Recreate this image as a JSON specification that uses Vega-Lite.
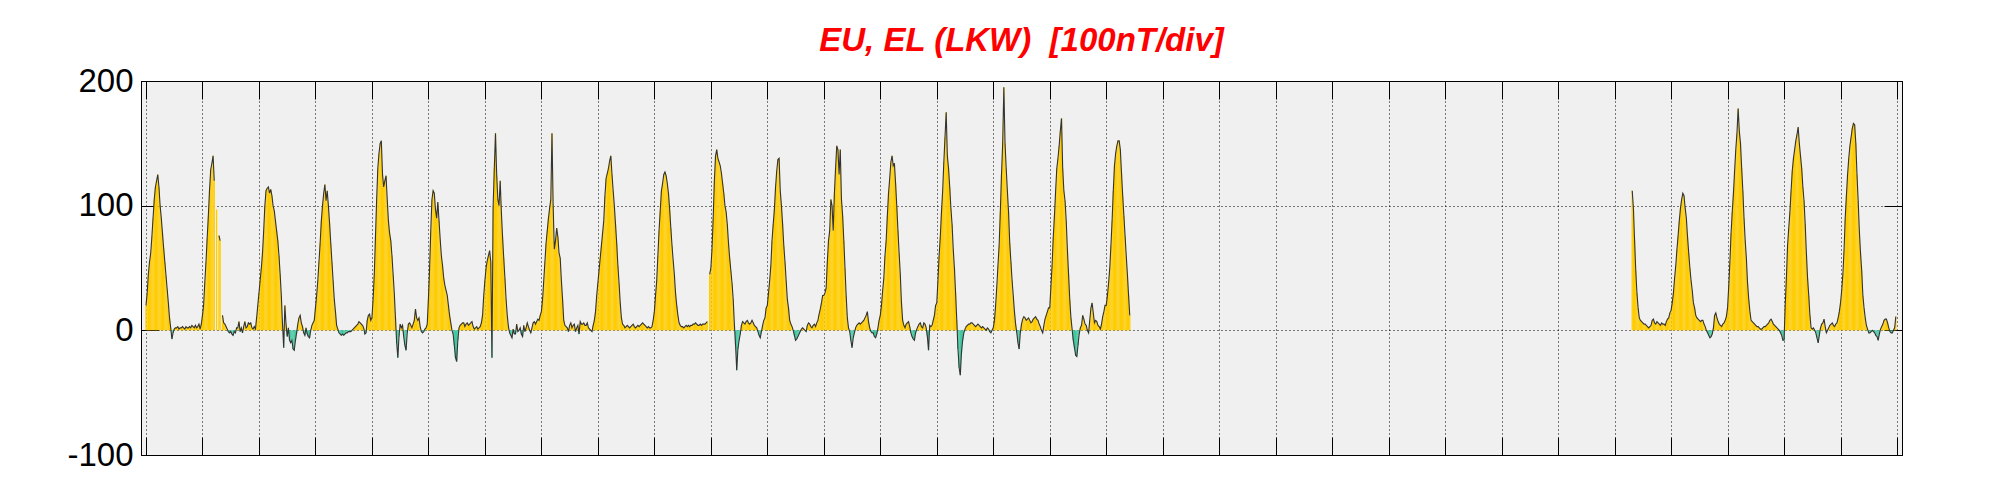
{
"$schema": "https://vega.github.io/schema/vega-lite/v6.json",
"width": 1761, "height": 374,
"autosize": "none",
"padding": {"left": 141, "top": 81, "right": 99, "bottom": 45},
"background": "white",
"title": {"text": "EU, EL (LKW) \u00a0[100nT/div]", "font": "Liberation Sans", "fontSize": 33, "fontStyle": "italic", "fontWeight": "bold", "color": "#FF0000", "anchor": "middle", "frame": "group", "baseline": "alphabetic", "offset": 28, "dy": 47},
"config": {"view": {"fill": "#F0F0F0", "stroke": "#000000", "strokeWidth": 1}},
"data": {"values": [
{"i":0,"v":20},{"i":1,"v":30},{"i":2,"v":45},{"i":3,"v":55},{"i":4,"v":62},{"i":5,"v":75},{"i":6,"v":90},{"i":7,"v":105},{"i":8,"v":115},{"i":9,"v":120},{"i":10,"v":125},{"i":11,"v":115},{"i":12,"v":100},{"i":13,"v":90},{"i":14,"v":78},{"i":15,"v":66},{"i":16,"v":55},{"i":17,"v":44},{"i":18,"v":33},{"i":19,"v":22},{"i":20,"v":10},{"i":21,"v":2},{"i":22,"v":-7},{"i":23,"v":-2},{"i":24,"v":1},{"i":25,"v":2},{"i":26,"v":2},{"i":27,"v":3},{"i":28,"v":1},{"i":29,"v":2},{"i":30,"v":2},{"i":31,"v":3},{"i":32,"v":2},{"i":33,"v":1},{"i":34,"v":3},{"i":35,"v":2},{"i":36,"v":2},{"i":37,"v":3},{"i":38,"v":2},{"i":39,"v":4},{"i":40,"v":3},{"i":41,"v":2},{"i":42,"v":4},{"i":43,"v":2},{"i":44,"v":3},{"i":45,"v":5},{"i":46,"v":1},{"i":47,"v":5},
{"i":48,"v":12},{"i":49,"v":21},{"i":50,"v":39},{"i":51,"v":55},{"i":52,"v":74},{"i":53,"v":92},{"i":54,"v":113},{"i":55,"v":129},{"i":56,"v":134},{"i":57,"v":140},{"i":58,"v":120},{"i":59,"v":null},{"i":60,"v":97},{"i":61,"v":null},{"i":62,"v":76},{"i":63,"v":72},{"i":64,"v":null},{"i":65,"v":12},{"i":66,"v":6},{"i":67,"v":5},{"i":68,"v":3},{"i":69,"v":1},{"i":70,"v":-1},{"i":71,"v":-2},{"i":72,"v":-1},{"i":73,"v":-3},{"i":74,"v":-4},{"i":75,"v":-1},{"i":76,"v":-2},{"i":77,"v":2},{"i":78,"v":2},{"i":79,"v":7},{"i":80,"v":-1},{"i":81,"v":2},{"i":82,"v":-2},{"i":83,"v":3},{"i":84,"v":7},{"i":85,"v":2},{"i":86,"v":3},{"i":87,"v":6},{"i":88,"v":5},{"i":89,"v":6},{"i":90,"v":2},{"i":91,"v":1},{"i":92,"v":3},{"i":93,"v":1},{"i":94,"v":10},{"i":95,"v":20},
{"i":96,"v":30},{"i":97,"v":40},{"i":98,"v":50},{"i":99,"v":62},{"i":100,"v":80},{"i":101,"v":100},{"i":102,"v":112},{"i":103,"v":114},{"i":104,"v":115},{"i":105,"v":110},{"i":106,"v":113},{"i":107,"v":108},{"i":108,"v":100},{"i":109,"v":96},{"i":110,"v":88},{"i":111,"v":80},{"i":112,"v":72},{"i":113,"v":60},{"i":114,"v":45},{"i":115,"v":28},{"i":116,"v":5},{"i":117,"v":-14},{"i":118,"v":20},{"i":119,"v":5},{"i":120,"v":-5},{"i":121,"v":2},{"i":122,"v":-8},{"i":123,"v":-10},{"i":124,"v":-8},{"i":125,"v":-15},{"i":126,"v":-16},{"i":127,"v":-8},{"i":128,"v":-2},{"i":129,"v":5},{"i":130,"v":10},{"i":131,"v":12},{"i":132,"v":6},{"i":133,"v":3},{"i":134,"v":-2},{"i":135,"v":-4},{"i":136,"v":2},{"i":137,"v":-3},{"i":138,"v":-5},{"i":139,"v":-6},{"i":140,"v":0},{"i":141,"v":4},{"i":142,"v":6},{"i":143,"v":8},
{"i":144,"v":18},{"i":145,"v":28},{"i":146,"v":40},{"i":147,"v":55},{"i":148,"v":70},{"i":149,"v":88},{"i":150,"v":100},{"i":151,"v":110},{"i":152,"v":117},{"i":153,"v":104},{"i":154,"v":112},{"i":155,"v":100},{"i":156,"v":86},{"i":157,"v":70},{"i":158,"v":55},{"i":159,"v":40},{"i":160,"v":25},{"i":161,"v":15},{"i":162,"v":4},{"i":163,"v":1},{"i":164,"v":-2},{"i":165,"v":-3},{"i":166,"v":-4},{"i":167,"v":-3},{"i":168,"v":-4},{"i":169,"v":-3},{"i":170,"v":-2},{"i":171,"v":-2},{"i":172,"v":-1},{"i":173,"v":-1},{"i":174,"v":-1},{"i":175,"v":0},{"i":176,"v":1},{"i":177,"v":2},{"i":178,"v":3},{"i":179,"v":4},{"i":180,"v":5},{"i":181,"v":7},{"i":182,"v":6},{"i":183,"v":5},{"i":184,"v":4},{"i":185,"v":2},{"i":186,"v":-3},{"i":187,"v":-2},{"i":188,"v":8},{"i":189,"v":12},{"i":190,"v":13},{"i":191,"v":8},
{"i":192,"v":10},{"i":193,"v":25},{"i":194,"v":45},{"i":195,"v":75},{"i":196,"v":105},{"i":197,"v":130},{"i":198,"v":142},{"i":199,"v":150},{"i":200,"v":152},{"i":201,"v":125},{"i":202,"v":115},{"i":203,"v":120},{"i":204,"v":124},{"i":205,"v":105},{"i":206,"v":88},{"i":207,"v":78},{"i":208,"v":72},{"i":209,"v":60},{"i":210,"v":45},{"i":211,"v":30},{"i":212,"v":10},{"i":213,"v":-10},{"i":214,"v":-22},{"i":215,"v":-5},{"i":216,"v":5},{"i":217,"v":2},{"i":218,"v":4},{"i":219,"v":-5},{"i":220,"v":-12},{"i":221,"v":-16},{"i":222,"v":-2},{"i":223,"v":5},{"i":224,"v":6},{"i":225,"v":4},{"i":226,"v":2},{"i":227,"v":5},{"i":228,"v":8},{"i":229,"v":17},{"i":230,"v":10},{"i":231,"v":8},{"i":232,"v":10},{"i":233,"v":3},{"i":234,"v":-1},{"i":235,"v":-2},{"i":236,"v":-1},{"i":237,"v":1},{"i":238,"v":2},{"i":239,"v":5},
{"i":240,"v":25},{"i":241,"v":50},{"i":242,"v":80},{"i":243,"v":105},{"i":244,"v":112},{"i":245,"v":110},{"i":246,"v":97},{"i":247,"v":90},{"i":248,"v":103},{"i":249,"v":88},{"i":250,"v":73},{"i":251,"v":60},{"i":252,"v":52},{"i":253,"v":42},{"i":254,"v":36},{"i":255,"v":32},{"i":256,"v":28},{"i":257,"v":20},{"i":258,"v":12},{"i":259,"v":6},{"i":260,"v":0},{"i":261,"v":-3},{"i":262,"v":-12},{"i":263,"v":-22},{"i":264,"v":-25},{"i":265,"v":-8},{"i":266,"v":2},{"i":267,"v":4},{"i":268,"v":5},{"i":269,"v":6},{"i":270,"v":6},{"i":271,"v":3},{"i":272,"v":5},{"i":273,"v":6},{"i":274,"v":4},{"i":275,"v":5},{"i":276,"v":6},{"i":277,"v":7},{"i":278,"v":3},{"i":279,"v":1},{"i":280,"v":2},{"i":281,"v":3},{"i":282,"v":1},{"i":283,"v":2},{"i":284,"v":3},{"i":285,"v":6},{"i":286,"v":12},{"i":287,"v":28},
{"i":288,"v":40},{"i":289,"v":50},{"i":290,"v":56},{"i":291,"v":60},{"i":292,"v":64},{"i":293,"v":55},{"i":294,"v":-22},{"i":295,"v":100},{"i":296,"v":130},{"i":297,"v":158},{"i":298,"v":125},{"i":299,"v":105},{"i":300,"v":100},{"i":301,"v":120},{"i":302,"v":95},{"i":303,"v":75},{"i":304,"v":58},{"i":305,"v":42},{"i":306,"v":25},{"i":307,"v":12},{"i":308,"v":3},{"i":309,"v":-2},{"i":310,"v":-4},{"i":311,"v":-6},{"i":312,"v":1},{"i":313,"v":-3},{"i":314,"v":-3},{"i":315,"v":5},{"i":316,"v":-1},{"i":317,"v":0},{"i":318,"v":2},{"i":319,"v":-3},{"i":320,"v":-5},{"i":321,"v":4},{"i":322,"v":-1},{"i":323,"v":2},{"i":324,"v":6},{"i":325,"v":3},{"i":326,"v":0},{"i":327,"v":-2},{"i":328,"v":2},{"i":329,"v":6},{"i":330,"v":7},{"i":331,"v":5},{"i":332,"v":7},{"i":333,"v":9},{"i":334,"v":8},{"i":335,"v":12},
{"i":336,"v":15},{"i":337,"v":25},{"i":338,"v":40},{"i":339,"v":55},{"i":340,"v":70},{"i":341,"v":80},{"i":342,"v":90},{"i":343,"v":98},{"i":344,"v":105},{"i":345,"v":158},{"i":346,"v":100},{"i":347,"v":65},{"i":348,"v":72},{"i":349,"v":82},{"i":350,"v":75},{"i":351,"v":62},{"i":352,"v":58},{"i":353,"v":40},{"i":354,"v":25},{"i":355,"v":8},{"i":356,"v":4},{"i":357,"v":3},{"i":358,"v":2},{"i":359,"v":-1},{"i":360,"v":4},{"i":361,"v":6},{"i":362,"v":2},{"i":363,"v":4},{"i":364,"v":5},{"i":365,"v":-1},{"i":366,"v":2},{"i":367,"v":4},{"i":368,"v":-3},{"i":369,"v":7},{"i":370,"v":5},{"i":371,"v":5},{"i":372,"v":6},{"i":373,"v":4},{"i":374,"v":4},{"i":375,"v":6},{"i":376,"v":2},{"i":377,"v":1},{"i":378,"v":0},{"i":379,"v":-1},{"i":380,"v":4},{"i":381,"v":8},{"i":382,"v":15},{"i":383,"v":28},
{"i":384,"v":38},{"i":385,"v":48},{"i":386,"v":58},{"i":387,"v":68},{"i":388,"v":78},{"i":389,"v":88},{"i":390,"v":108},{"i":391,"v":122},{"i":392,"v":126},{"i":393,"v":130},{"i":394,"v":136},{"i":395,"v":140},{"i":396,"v":125},{"i":397,"v":112},{"i":398,"v":100},{"i":399,"v":85},{"i":400,"v":70},{"i":401,"v":52},{"i":402,"v":38},{"i":403,"v":22},{"i":404,"v":10},{"i":405,"v":5},{"i":406,"v":4},{"i":407,"v":2},{"i":408,"v":3},{"i":409,"v":4},{"i":410,"v":3},{"i":411,"v":2},{"i":412,"v":3},{"i":413,"v":4},{"i":414,"v":5},{"i":415,"v":3},{"i":416,"v":2},{"i":417,"v":3},{"i":418,"v":4},{"i":419,"v":3},{"i":420,"v":4},{"i":421,"v":5},{"i":422,"v":6},{"i":423,"v":5},{"i":424,"v":4},{"i":425,"v":3},{"i":426,"v":2},{"i":427,"v":3},{"i":428,"v":2},{"i":429,"v":2},{"i":430,"v":3},{"i":431,"v":8},
{"i":432,"v":15},{"i":433,"v":28},{"i":434,"v":40},{"i":435,"v":60},{"i":436,"v":80},{"i":437,"v":96},{"i":438,"v":112},{"i":439,"v":118},{"i":440,"v":125},{"i":441,"v":127},{"i":442,"v":124},{"i":443,"v":118},{"i":444,"v":110},{"i":445,"v":97},{"i":446,"v":82},{"i":447,"v":68},{"i":448,"v":56},{"i":449,"v":45},{"i":450,"v":30},{"i":451,"v":20},{"i":452,"v":12},{"i":453,"v":6},{"i":454,"v":4},{"i":455,"v":3},{"i":456,"v":3},{"i":457,"v":2},{"i":458,"v":3},{"i":459,"v":4},{"i":460,"v":3},{"i":461,"v":4},{"i":462,"v":3},{"i":463,"v":4},{"i":464,"v":4},{"i":465,"v":5},{"i":466,"v":5},{"i":467,"v":6},{"i":468,"v":5},{"i":469,"v":4},{"i":470,"v":4},{"i":471,"v":5},{"i":472,"v":4},{"i":473,"v":5},{"i":474,"v":5},{"i":475,"v":5},{"i":476,"v":6},{"i":477,"v":7},{"i":478,"v":null},{"i":479,"v":45},
{"i":480,"v":50},{"i":481,"v":65},{"i":482,"v":90},{"i":483,"v":120},{"i":484,"v":140},{"i":485,"v":145},{"i":486,"v":138},{"i":487,"v":135},{"i":488,"v":132},{"i":489,"v":126},{"i":490,"v":118},{"i":491,"v":110},{"i":492,"v":100},{"i":493,"v":95},{"i":494,"v":85},{"i":495,"v":70},{"i":496,"v":58},{"i":497,"v":48},{"i":498,"v":38},{"i":499,"v":25},{"i":500,"v":5},{"i":501,"v":-12},{"i":502,"v":-32},{"i":503,"v":-15},{"i":504,"v":-8},{"i":505,"v":-3},{"i":506,"v":4},{"i":507,"v":7},{"i":508,"v":6},{"i":509,"v":5},{"i":510,"v":7},{"i":511,"v":8},{"i":512,"v":6},{"i":513,"v":5},{"i":514,"v":6},{"i":515,"v":8},{"i":516,"v":6},{"i":517,"v":4},{"i":518,"v":3},{"i":519,"v":2},{"i":520,"v":-1},{"i":521,"v":-4},{"i":522,"v":-6},{"i":523,"v":-1},{"i":524,"v":4},{"i":525,"v":8},{"i":526,"v":10},{"i":527,"v":18},
{"i":528,"v":20},{"i":529,"v":30},{"i":530,"v":40},{"i":531,"v":52},{"i":532,"v":72},{"i":533,"v":85},{"i":534,"v":97},{"i":535,"v":115},{"i":536,"v":128},{"i":537,"v":137},{"i":538,"v":138},{"i":539,"v":112},{"i":540,"v":100},{"i":541,"v":85},{"i":542,"v":68},{"i":543,"v":55},{"i":544,"v":40},{"i":545,"v":25},{"i":546,"v":18},{"i":547,"v":8},{"i":548,"v":5},{"i":549,"v":3},{"i":550,"v":0},{"i":551,"v":-4},{"i":552,"v":-8},{"i":553,"v":-7},{"i":554,"v":-5},{"i":555,"v":-3},{"i":556,"v":-1},{"i":557,"v":1},{"i":558,"v":2},{"i":559,"v":1},{"i":560,"v":0},{"i":561,"v":-1},{"i":562,"v":4},{"i":563,"v":6},{"i":564,"v":5},{"i":565,"v":3},{"i":566,"v":2},{"i":567,"v":4},{"i":568,"v":5},{"i":569,"v":3},{"i":570,"v":6},{"i":571,"v":8},{"i":572,"v":13},{"i":573,"v":17},{"i":574,"v":22},{"i":575,"v":28},
{"i":576,"v":28},{"i":577,"v":30},{"i":578,"v":34},{"i":579,"v":55},{"i":580,"v":72},{"i":581,"v":80},{"i":582,"v":105},{"i":583,"v":100},{"i":584,"v":80},{"i":585,"v":110},{"i":586,"v":130},{"i":587,"v":148},{"i":588,"v":145},{"i":589,"v":125},{"i":590,"v":145},{"i":591,"v":105},{"i":592,"v":92},{"i":593,"v":72},{"i":594,"v":50},{"i":595,"v":28},{"i":596,"v":10},{"i":597,"v":2},{"i":598,"v":-1},{"i":599,"v":-8},{"i":600,"v":-14},{"i":601,"v":-6},{"i":602,"v":-2},{"i":603,"v":2},{"i":604,"v":4},{"i":605,"v":5},{"i":606,"v":6},{"i":607,"v":5},{"i":608,"v":6},{"i":609,"v":7},{"i":610,"v":8},{"i":611,"v":10},{"i":612,"v":12},{"i":613,"v":15},{"i":614,"v":7},{"i":615,"v":2},{"i":616,"v":-1},{"i":617,"v":-2},{"i":618,"v":-2},{"i":619,"v":-5},{"i":620,"v":-6},{"i":621,"v":-3},{"i":622,"v":2},{"i":623,"v":8},
{"i":624,"v":12},{"i":625,"v":20},{"i":626,"v":32},{"i":627,"v":42},{"i":628,"v":60},{"i":629,"v":72},{"i":630,"v":92},{"i":631,"v":110},{"i":632,"v":122},{"i":633,"v":135},{"i":634,"v":140},{"i":635,"v":132},{"i":636,"v":134},{"i":637,"v":118},{"i":638,"v":100},{"i":639,"v":80},{"i":640,"v":62},{"i":641,"v":45},{"i":642,"v":22},{"i":643,"v":8},{"i":644,"v":4},{"i":645,"v":2},{"i":646,"v":5},{"i":647,"v":6},{"i":648,"v":7},{"i":649,"v":3},{"i":650,"v":-2},{"i":651,"v":-5},{"i":652,"v":-7},{"i":653,"v":-8},{"i":654,"v":-2},{"i":655,"v":1},{"i":656,"v":3},{"i":657,"v":5},{"i":658,"v":6},{"i":659,"v":3},{"i":660,"v":2},{"i":661,"v":6},{"i":662,"v":5},{"i":663,"v":2},{"i":664,"v":-5},{"i":665,"v":-16},{"i":666,"v":4},{"i":667,"v":3},{"i":668,"v":4},{"i":669,"v":8},{"i":670,"v":12},{"i":671,"v":20},
{"i":672,"v":22},{"i":673,"v":40},{"i":674,"v":60},{"i":675,"v":75},{"i":676,"v":95},{"i":677,"v":112},{"i":678,"v":135},{"i":679,"v":155},{"i":680,"v":175},{"i":681,"v":140},{"i":682,"v":130},{"i":683,"v":115},{"i":684,"v":98},{"i":685,"v":85},{"i":686,"v":65},{"i":687,"v":50},{"i":688,"v":30},{"i":689,"v":8},{"i":690,"v":-15},{"i":691,"v":-30},{"i":692,"v":-36},{"i":693,"v":-18},{"i":694,"v":-8},{"i":695,"v":-2},{"i":696,"v":1},{"i":697,"v":3},{"i":698,"v":4},{"i":699,"v":5},{"i":700,"v":5},{"i":701,"v":6},{"i":702,"v":6},{"i":703,"v":5},{"i":704,"v":4},{"i":705,"v":3},{"i":706,"v":4},{"i":707,"v":5},{"i":708,"v":4},{"i":709,"v":3},{"i":710,"v":2},{"i":711,"v":3},{"i":712,"v":2},{"i":713,"v":1},{"i":714,"v":0},{"i":715,"v":2},{"i":716,"v":1},{"i":717,"v":-1},{"i":718,"v":-2},{"i":719,"v":0},
{"i":720,"v":2},{"i":721,"v":8},{"i":722,"v":20},{"i":723,"v":35},{"i":724,"v":52},{"i":725,"v":68},{"i":726,"v":95},{"i":727,"v":125},{"i":728,"v":150},{"i":729,"v":195},{"i":730,"v":150},{"i":731,"v":130},{"i":732,"v":112},{"i":733,"v":95},{"i":734,"v":70},{"i":735,"v":55},{"i":736,"v":40},{"i":737,"v":28},{"i":738,"v":15},{"i":739,"v":5},{"i":740,"v":-2},{"i":741,"v":-10},{"i":742,"v":-15},{"i":743,"v":-2},{"i":744,"v":5},{"i":745,"v":9},{"i":746,"v":11},{"i":747,"v":10},{"i":748,"v":8},{"i":749,"v":9},{"i":750,"v":10},{"i":751,"v":8},{"i":752,"v":6},{"i":753,"v":7},{"i":754,"v":9},{"i":755,"v":10},{"i":756,"v":11},{"i":757,"v":9},{"i":758,"v":8},{"i":759,"v":5},{"i":760,"v":3},{"i":761,"v":0},{"i":762,"v":-2},{"i":763,"v":4},{"i":764,"v":9},{"i":765,"v":12},{"i":766,"v":15},{"i":767,"v":18},
{"i":768,"v":18},{"i":769,"v":35},{"i":770,"v":52},{"i":771,"v":75},{"i":772,"v":92},{"i":773,"v":112},{"i":774,"v":130},{"i":775,"v":138},{"i":776,"v":148},{"i":777,"v":160},{"i":778,"v":170},{"i":779,"v":130},{"i":780,"v":112},{"i":781,"v":104},{"i":782,"v":88},{"i":783,"v":65},{"i":784,"v":45},{"i":785,"v":25},{"i":786,"v":10},{"i":787,"v":1},{"i":788,"v":-8},{"i":789,"v":-14},{"i":790,"v":-20},{"i":791,"v":-21},{"i":792,"v":-12},{"i":793,"v":-3},{"i":794,"v":2},{"i":795,"v":4},{"i":796,"v":12},{"i":797,"v":9},{"i":798,"v":5},{"i":799,"v":4},{"i":800,"v":0},{"i":801,"v":-2},{"i":802,"v":8},{"i":803,"v":18},{"i":804,"v":22},{"i":805,"v":14},{"i":806,"v":6},{"i":807,"v":8},{"i":808,"v":7},{"i":809,"v":4},{"i":810,"v":3},{"i":811,"v":1},{"i":812,"v":5},{"i":813,"v":11},{"i":814,"v":15},{"i":815,"v":20},
{"i":816,"v":20},{"i":817,"v":28},{"i":818,"v":38},{"i":819,"v":50},{"i":820,"v":68},{"i":821,"v":88},{"i":822,"v":112},{"i":823,"v":132},{"i":824,"v":142},{"i":825,"v":148},{"i":826,"v":152},{"i":827,"v":152},{"i":828,"v":145},{"i":829,"v":126},{"i":830,"v":108},{"i":831,"v":92},{"i":832,"v":76},{"i":833,"v":60},{"i":834,"v":45},{"i":835,"v":28},{"i":836,"v":12},
{"i":900,"v":null},
{"i":1263,"v":112},{"i":1264,"v":98},{"i":1265,"v":72},{"i":1266,"v":48},{"i":1267,"v":30},{"i":1268,"v":18},{"i":1269,"v":10},{"i":1270,"v":8},{"i":1271,"v":7},{"i":1272,"v":6},{"i":1273,"v":5},{"i":1274,"v":5},{"i":1275,"v":4},{"i":1276,"v":3},{"i":1277,"v":2},{"i":1278,"v":3},{"i":1279,"v":4},{"i":1280,"v":8},{"i":1281,"v":9},{"i":1282,"v":6},{"i":1283,"v":5},{"i":1284,"v":7},{"i":1285,"v":6},{"i":1286,"v":5},{"i":1287,"v":4},{"i":1288,"v":6},{"i":1289,"v":5},{"i":1290,"v":5},{"i":1291,"v":4},{"i":1292,"v":7},{"i":1293,"v":9},{"i":1294,"v":10},{"i":1295,"v":14},
{"i":1296,"v":16},{"i":1297,"v":22},{"i":1298,"v":30},{"i":1299,"v":42},{"i":1300,"v":52},{"i":1301,"v":65},{"i":1302,"v":76},{"i":1303,"v":88},{"i":1304,"v":98},{"i":1305,"v":105},{"i":1306,"v":110},{"i":1307,"v":108},{"i":1308,"v":98},{"i":1309,"v":90},{"i":1310,"v":75},{"i":1311,"v":62},{"i":1312,"v":50},{"i":1313,"v":40},{"i":1314,"v":32},{"i":1315,"v":22},{"i":1316,"v":18},{"i":1317,"v":12},{"i":1318,"v":10},{"i":1319,"v":9},{"i":1320,"v":8},{"i":1321,"v":7},{"i":1322,"v":8},{"i":1323,"v":8},{"i":1324,"v":5},{"i":1325,"v":3},{"i":1326,"v":0},{"i":1327,"v":-2},{"i":1328,"v":-4},{"i":1329,"v":-6},{"i":1330,"v":-5},{"i":1331,"v":-3},{"i":1332,"v":2},{"i":1333,"v":12},{"i":1334,"v":14},{"i":1335,"v":10},{"i":1336,"v":7},{"i":1337,"v":5},{"i":1338,"v":4},{"i":1339,"v":3},{"i":1340,"v":5},{"i":1341,"v":6},{"i":1342,"v":8},{"i":1343,"v":11},
{"i":1344,"v":18},{"i":1345,"v":35},{"i":1346,"v":55},{"i":1347,"v":78},{"i":1348,"v":95},{"i":1349,"v":110},{"i":1350,"v":128},{"i":1351,"v":145},{"i":1352,"v":158},{"i":1353,"v":178},{"i":1354,"v":160},{"i":1355,"v":150},{"i":1356,"v":130},{"i":1357,"v":112},{"i":1358,"v":90},{"i":1359,"v":72},{"i":1360,"v":58},{"i":1361,"v":38},{"i":1362,"v":25},{"i":1363,"v":15},{"i":1364,"v":8},{"i":1365,"v":7},{"i":1366,"v":6},{"i":1367,"v":5},{"i":1368,"v":4},{"i":1369,"v":3},{"i":1370,"v":3},{"i":1371,"v":2},{"i":1372,"v":1},{"i":1373,"v":1},{"i":1374,"v":2},{"i":1375,"v":3},{"i":1376,"v":3},{"i":1377,"v":4},{"i":1378,"v":5},{"i":1379,"v":6},{"i":1380,"v":8},{"i":1381,"v":9},{"i":1382,"v":7},{"i":1383,"v":5},{"i":1384,"v":4},{"i":1385,"v":3},{"i":1386,"v":2},{"i":1387,"v":1},{"i":1388,"v":0},{"i":1389,"v":-2},{"i":1390,"v":-4},{"i":1391,"v":-8},
{"i":1392,"v":-8},{"i":1393,"v":20},{"i":1394,"v":42},{"i":1395,"v":68},{"i":1396,"v":82},{"i":1397,"v":95},{"i":1398,"v":112},{"i":1399,"v":128},{"i":1400,"v":138},{"i":1401,"v":145},{"i":1402,"v":152},{"i":1403,"v":157},{"i":1404,"v":163},{"i":1405,"v":150},{"i":1406,"v":140},{"i":1407,"v":130},{"i":1408,"v":115},{"i":1409,"v":104},{"i":1410,"v":85},{"i":1411,"v":62},{"i":1412,"v":42},{"i":1413,"v":28},{"i":1414,"v":12},{"i":1415,"v":2},{"i":1416,"v":1},{"i":1417,"v":2},{"i":1418,"v":0},{"i":1419,"v":-2},{"i":1420,"v":-6},{"i":1421,"v":-10},{"i":1422,"v":-4},{"i":1423,"v":2},{"i":1424,"v":5},{"i":1425,"v":6},{"i":1426,"v":9},{"i":1427,"v":3},{"i":1428,"v":-2},{"i":1429,"v":0},{"i":1430,"v":2},{"i":1431,"v":4},{"i":1432,"v":5},{"i":1433,"v":6},{"i":1434,"v":4},{"i":1435,"v":3},{"i":1436,"v":5},{"i":1437,"v":6},{"i":1438,"v":10},{"i":1439,"v":15},
{"i":1440,"v":22},{"i":1441,"v":32},{"i":1442,"v":45},{"i":1443,"v":64},{"i":1444,"v":90},{"i":1445,"v":108},{"i":1446,"v":125},{"i":1447,"v":138},{"i":1448,"v":148},{"i":1449,"v":155},{"i":1450,"v":162},{"i":1451,"v":166},{"i":1452,"v":165},{"i":1453,"v":150},{"i":1454,"v":125},{"i":1455,"v":104},{"i":1456,"v":80},{"i":1457,"v":62},{"i":1458,"v":48},{"i":1459,"v":28},{"i":1460,"v":18},{"i":1461,"v":10},{"i":1462,"v":4},{"i":1463,"v":1},{"i":1464,"v":-2},{"i":1465,"v":-2},{"i":1466,"v":-1},{"i":1467,"v":0},{"i":1468,"v":-1},{"i":1469,"v":-2},{"i":1470,"v":-4},{"i":1471,"v":-5},{"i":1472,"v":-8},{"i":1473,"v":-3},{"i":1474,"v":1},{"i":1475,"v":3},{"i":1476,"v":5},{"i":1477,"v":8},{"i":1478,"v":9},{"i":1479,"v":9},{"i":1480,"v":6},{"i":1481,"v":2},{"i":1482,"v":-1},{"i":1483,"v":-2},{"i":1484,"v":-2},{"i":1485,"v":0},{"i":1486,"v":2},{"i":1487,"v":11}
]},
"layer": [
{"mark": {"type": "bar", "width": 1.3, "clip": true},
 "encoding": {
  "x": {"field": "i", "type": "quantitative", "scale": {"domain": [0, 1488], "nice": false, "zero": false},
        "axis": {"orient": "bottom", "values": [0,48,96,144,192,240,288,336,384,432,480,528,576,624,672,720,768,816,864,912,960,1008,1056,1104,1152,1200,1248,1296,1344,1392,1440,1488], "labels": false, "title": null, "domain": false, "ticks": true, "tickSize": -18, "tickColor": "#000000", "tickWidth": 1, "grid": true, "gridColor": "#000000", "gridOpacity": 1, "gridDash": [1, 3], "gridWidth": 1}},
  "y": {"field": "v", "type": "quantitative", "scale": {"domain": [-100, 200], "nice": false},
        "axis": {"orient": "left", "values": [-100, 0, 100, 200], "title": null, "domain": false, "ticks": true, "tickSize": -18, "tickColor": "#000000", "tickWidth": 1, "labelFont": "Liberation Sans", "labelFontSize": 33, "labelColor": "#000000", "labelPadding": 26, "labelFlush": false, "labelOverlap": false, "labelExpr": "'' + datum.value", "grid": true, "gridColor": "#000000", "gridOpacity": 1, "gridDash": [1, 3], "gridWidth": 1}},
  "y2": {"datum": 0},
  "color": {"condition": {"test": "datum.v < 0", "value": "#40C8A0"}, "value": "#FFCC00"}
 }},
{"mark": {"type": "line", "color": "#333333", "strokeWidth": 1.1, "clip": true},
 "encoding": {
  "x": {"field": "i", "type": "quantitative",
        "axis": {"orient": "top", "values": [0,48,96,144,192,240,288,336,384,432,480,528,576,624,672,720,768,816,864,912,960,1008,1056,1104,1152,1200,1248,1296,1344,1392,1440,1488], "labels": false, "title": null, "domain": false, "ticks": true, "tickSize": -18, "tickColor": "#000000", "tickWidth": 1, "grid": false}},
  "y": {"field": "v", "type": "quantitative",
        "axis": {"orient": "right", "values": [-100, 0, 100, 200], "labels": false, "title": null, "domain": false, "ticks": true, "tickSize": -18, "tickColor": "#000000", "tickWidth": 1, "grid": false}}
 }}
],
"resolve": {"axis": {"x": "independent", "y": "independent"}}
}
